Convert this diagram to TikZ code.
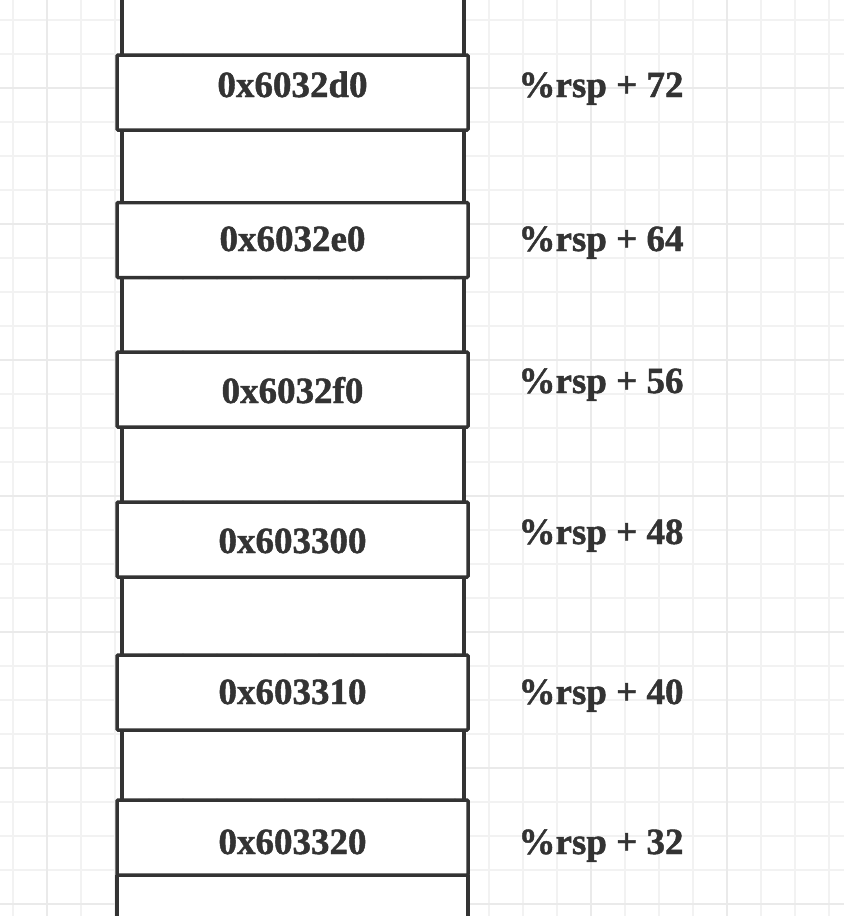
\documentclass[tikz,border=0pt]{standalone}
\usepackage{fontspec}
\setmainfont{Liberation Serif}[BoldFeatures={FakeBold=1.2}]
\usepackage{tikz}

\definecolor{ink}{HTML}{333333}
\definecolor{gridlo}{HTML}{F2F2F2}
\definecolor{gridhi}{HTML}{EAEAEA}

\begin{document}
\begin{tikzpicture}[x=1pt,y=-1pt,
                    cell/.style={draw=ink,fill=white,line width=3.5pt,rounded corners=1pt,
                        minimum width=351pt,minimum height=75pt,inner sep=0pt,outer sep=0pt},
                    txt/.style={text=ink,font=\fontsize{37}{40}\selectfont\bfseries,anchor=base,inner sep=0pt},
                    side/.style={draw=ink,line width=3.5pt},
                    gridline/.style={line width=2pt}
                ]
                    \useasboundingbox (0,0) rectangle (844,916);
                    \fill[white] (0,0) rectangle (844,916);
                    % background grid
                    \foreach \gx in {13,47,...,844} \draw[gridline,gridlo] (\gx,0) -- (\gx,916);
                    \foreach \gy in {20,54,...,916} \draw[gridline,gridlo] (0,\gy) -- (844,\gy);
                    \foreach \gx in {47,183,...,844} \draw[gridline,gridhi] (\gx,0) -- (\gx,916);
                    \foreach \gy in {88,224,...,916} \draw[gridline,gridhi] (0,\gy) -- (844,\gy);
                    % stack cells
                    \foreach \n/\cy/\ty/\oy/\addr/\off in {1/92.5/97/97/0x6032d0/72,2/240/251/251/0x6032e0/64,
                        3/389.5/403/393/0x6032f0/56,4/539.5/553/544/0x603300/48,
                        5/692.5/704/704/0x603310/40,6/837.5/854/854/0x603320/32}{
                        \node[cell] (cell\n) at (292.5,\cy) {};
                        \node[txt] (addr\n) at (292.5,\ty) {\addr};
                        \node[txt] (off\n) at (601,\oy) {\%rsp + \off};
                    }
                    % column between cells
                    \foreach \a/\b in {1/2,2/3,3/4,4/5,5/6}{
                        \fill[white] ([xshift=5pt,yshift=-2pt]cell\a.south west) rectangle ([xshift=-4pt,yshift=2pt]cell\b.north east);
                        \draw[side] ([xshift=5pt]cell\a.south west) -- ([xshift=5pt]cell\b.north west);
                        \draw[side] ([xshift=-4pt]cell\a.south east) -- ([xshift=-4pt]cell\b.north east);
                    }
                    \coordinate (topL) at (122,-10);
                    \coordinate (topR) at (464,-10);
                    \fill[white] (topL) rectangle ([xshift=-4pt,yshift=2pt]cell1.north east);
                    \draw[side] (topL) -- ([xshift=5pt]cell1.north west);
                    \draw[side] (topR) -- ([xshift=-4pt]cell1.north east);
                    \coordinate (botL) at (117,930);
                    \coordinate (botR) at (468,930);
                    \fill[white] ([yshift=-2pt]cell6.south west) rectangle (botR);
                    \draw[side] (cell6.south west) -- (botL);
                    \draw[side] (cell6.south east) -- (botR);
                \end{tikzpicture}
\end{document}
